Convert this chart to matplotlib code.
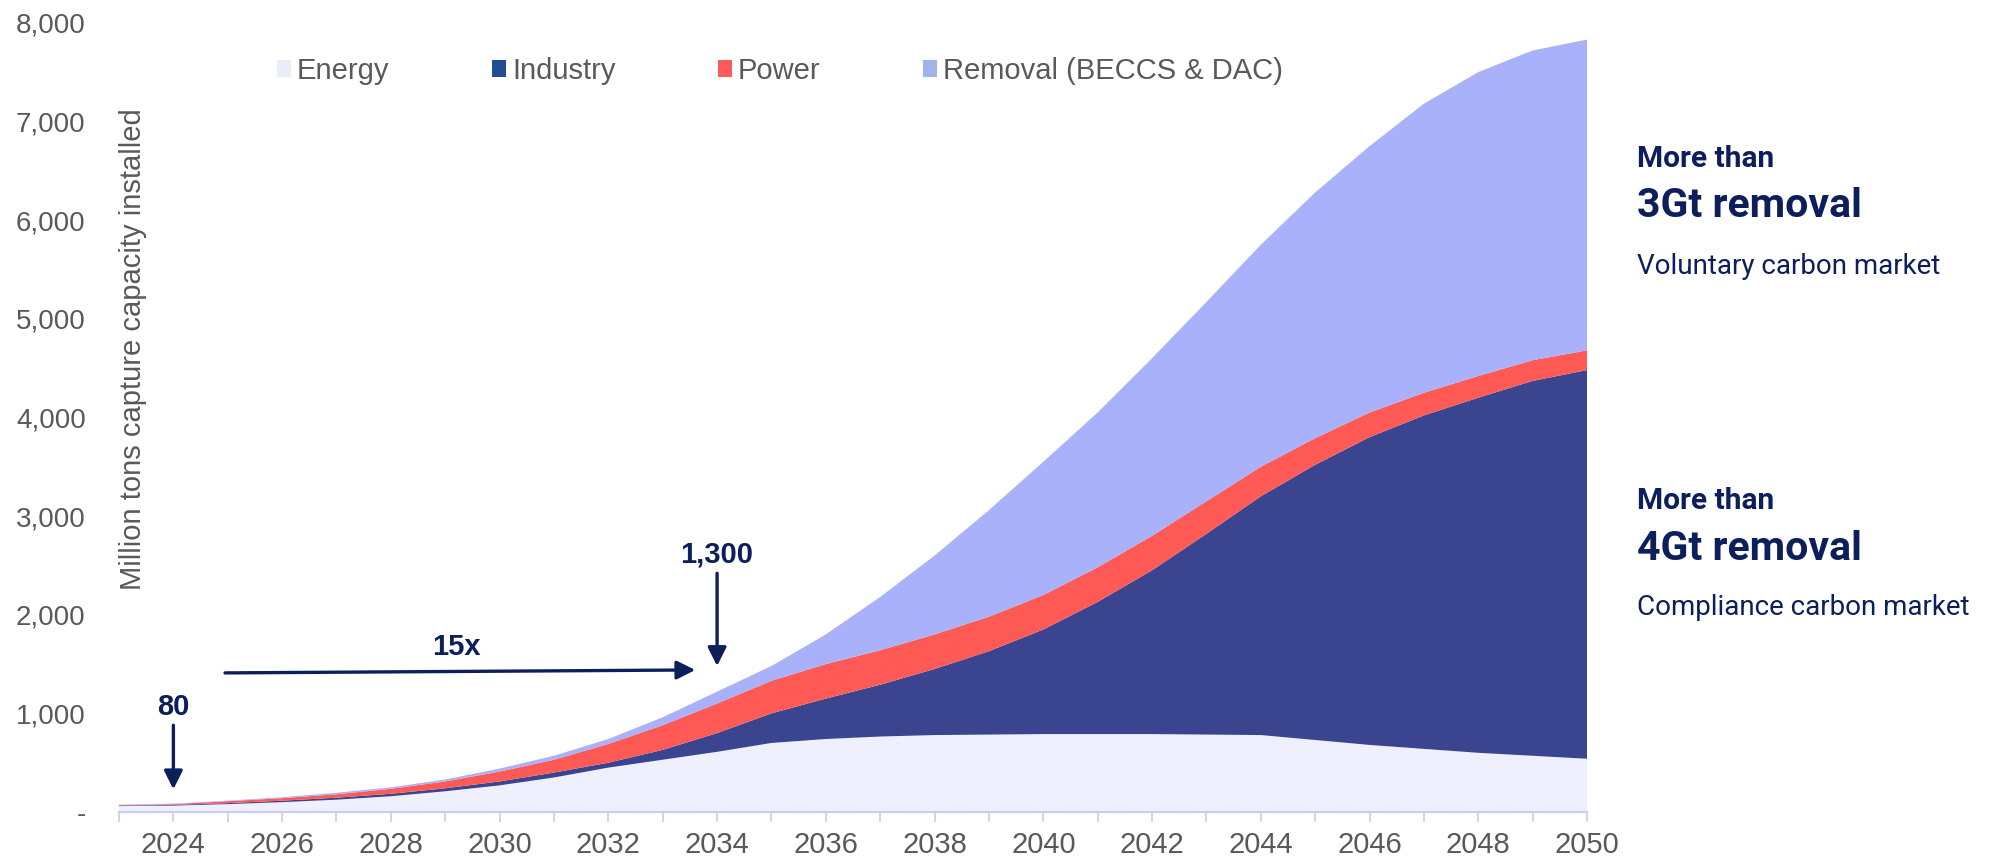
import matplotlib
matplotlib.use("Agg")
import matplotlib.pyplot as plt
from matplotlib.patches import Patch
from matplotlib.ticker import FuncFormatter, MultipleLocator, FixedLocator
import numpy as np

years = list(range(2023, 2051))
# cumulative boundaries (million tons)
energy_top = [60, 65, 80, 100, 125, 160, 210, 270, 350, 450, 530, 610, 700, 740,
              765, 780, 785, 790, 790, 790, 785, 780, 730, 680, 640, 600, 570, 540]
industry_top = [65, 72, 90, 115, 145, 185, 240, 310, 400, 500, 630, 800, 1000, 1150,
                1290, 1450, 1630, 1850, 2130, 2450, 2820, 3200, 3520, 3800, 4020, 4200, 4370, 4480]
power_top = [70, 80, 110, 140, 180, 235, 310, 410, 530, 690, 880, 1100, 1330, 1500,
             1640, 1800, 1980, 2200, 2480, 2800, 3150, 3500, 3790, 4050, 4250, 4420, 4580, 4680]
total_top = [75, 85, 115, 150, 195, 250, 330, 440, 570, 740, 960, 1220, 1480, 1800,
             2180, 2600, 3060, 3550, 4050, 4600, 5170, 5750, 6280, 6750, 7180, 7500, 7720, 7830]

energy = np.array(energy_top)
industry = np.array(industry_top) - np.array(energy_top)
power = np.array(power_top) - np.array(industry_top)
removal = np.array(total_top) - np.array(power_top)

series_names = ["Energy", "Industry", "Power", "Removal (BECCS & DAC)"]
area_colors = ["#EEF0FD", "#3B448E", "#FF5A55", "#A8B1F9"]
legend_colors = ["#E9EDF8", "#1F4E91", "#FF5A5A", "#9FB3EC"]
xtick_labels = [str(y) for y in range(2024, 2051, 2)]

navy = "#0C1F5C"
gray = "#595959"
base_font = "Liberation Sans"

fig = plt.figure(figsize=(19.9, 8.61), dpi=100)
ax = fig.add_axes([0.0598, 0.0569, 0.7377, 0.9166])

ax.stackplot(years, energy, industry, power, removal, colors=area_colors, linewidth=0)

ax.set_xlim(2023, 2050)
ax.set_ylim(0, 8000)

for s in ["left", "right", "top"]:
    ax.spines[s].set_visible(False)
ax.spines["bottom"].set_color("#C9CCF5")
ax.spines["bottom"].set_linewidth(1.5)

ax.xaxis.set_major_locator(FixedLocator(range(2024, 2051, 2)))
ax.set_xticklabels(xtick_labels)
ax.xaxis.set_minor_locator(MultipleLocator(1))
ax.tick_params(axis="x", which="both", length=7, width=1.2, color="#C9CCF5",
               labelsize=21, labelcolor=gray, pad=7)
ax.yaxis.set_major_locator(MultipleLocator(1000))
ax.yaxis.set_major_formatter(FuncFormatter(lambda v, p: "-" if v == 0 else f"{v:,.0f}"))
ax.tick_params(axis="y", length=0, labelsize=20, labelcolor=gray, pad=24)
for lab in ax.get_xticklabels() + ax.get_yticklabels():
    lab.set_family(base_font)

ax.text(0.0095, 4690, "Million tons capture capacity installed", rotation=90,
        transform=ax.get_yaxis_transform(), ha="center", va="center",
        fontsize=21, color=gray, family=base_font)

handles = [Patch(facecolor=c, edgecolor="none") for c in legend_colors]
leg = ax.legend(handles, series_names, loc="center left", bbox_to_anchor=(0.1074, 0.939),
                ncol=4, frameon=False, handlelength=0.5, handleheight=0.5,
                handletextpad=0.2, columnspacing=3.5, labelcolor=gray,
                borderpad=0, borderaxespad=0,
                prop={"family": base_font, "size": 21})

ann_font = ["Liberation Sans Narrow", "Liberation Sans"]
arrow_kw = dict(arrowstyle="-|>", color=navy, lw=2.4, mutation_scale=28, shrinkA=0, shrinkB=0)
ax.text(2024, 1068, "80", ha="center", va="center", fontsize=21, fontweight="bold",
        color=navy, family=ann_font)
ax.annotate("", xy=(2024, 230), xytext=(2024, 880), arrowprops=arrow_kw)
ax.text(2029.2, 1672, "15x", ha="center", va="center", fontsize=21, fontweight="bold",
        color=navy, family=ann_font)
ax.annotate("", xy=(2033.6, 1440), xytext=(2024.95, 1410), arrowprops=arrow_kw)
ax.text(2034, 2611, "1,300", ha="center", va="center", fontsize=21, fontweight="bold",
        color=navy, family=ann_font)
ax.annotate("", xy=(2034, 1480), xytext=(2034, 2420), arrowprops=arrow_kw)

tx = 0.8226
fig.text(tx, 0.815, "More than", fontsize=21.5, fontweight="bold", color=navy,
         family="Roboto", va="center")
fig.text(tx, 0.761, "3Gt removal", fontsize=29.5, fontweight="bold", color=navy,
         family="Roboto", va="center")
fig.text(tx, 0.690, "Voluntary carbon market", fontsize=20, color=navy,
         family="Roboto", va="center")
fig.text(tx, 0.418, "More than", fontsize=21.5, fontweight="bold", color=navy,
         family="Roboto", va="center")
fig.text(tx, 0.362, "4Gt removal", fontsize=29.5, fontweight="bold", color=navy,
         family="Roboto", va="center")
fig.text(tx, 0.295, "Compliance carbon market", fontsize=20, color=navy,
         family="Roboto", va="center")

fig.savefig("out.png", dpi=100)
